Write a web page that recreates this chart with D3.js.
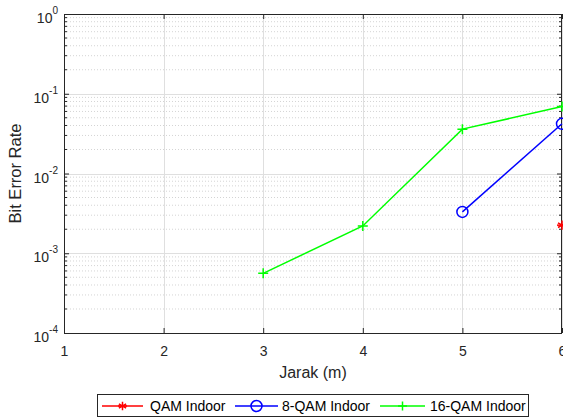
<!DOCTYPE html>
<html>
<head>
<meta charset="utf-8">
<script src="https://cdn.jsdelivr.net/npm/d3@7"></script>
<style>
body{margin:0;background:#fff;}
svg{display:block;font-family:"Liberation Sans",Arial,sans-serif;}
</style>
</head>
<body>
<svg id="chart"></svg>
<script>
// data
let jarak = [1,2,3,4,5,6];
let qam = [{x:6,y:0.00225}];
let qam8 = [{x:5,y:0.0033},{x:6,y:0.042}];
let qam16 = [{x:3,y:0.00056},{x:4,y:0.0022},{x:5,y:0.036},{x:6,y:0.069}];
let decades = [-4,-3,-2,-1,0];
let seriesNames = ["QAM Indoor","8-QAM Indoor","16-QAM Indoor"];
let seriesColors = ["#ff0000","#0000ff","#00ff00"];

width = 563;
height = 417;
margin = ({top: 14, right: 1, bottom: 84, left: 64});

svg = d3.select('#chart').attr('width',width).attr('height',height);

x = d3.scaleLinear().domain([1,6]).range([margin.left, width - margin.right]);
y = d3.scaleLog().domain([1e-4,1]).range([height - margin.bottom, margin.top]);

axisCol = '#262626';

// minor grid
let minors = [];
decades.slice(0,-1).forEach(e=>{
    for(let k=2;k<10;k++) minors.push(k*Math.pow(10,e));
});
svg.append('g').selectAll('line').data(minors).join('line')
    .attr('x1',x(1)).attr('x2',x(6))
    .attr('y1',d=>y(d)).attr('y2',d=>y(d))
    .attr('stroke','#d4d4d4').attr('stroke-width',1).attr('stroke-dasharray','1,2');

// major grid
svg.append('g').selectAll('line').data(decades.map(e=>Math.pow(10,e))).join('line')
    .attr('x1',x(1)).attr('x2',x(6))
    .attr('y1',d=>Math.round(y(d))+0.5).attr('y2',d=>Math.round(y(d))+0.5)
    .attr('stroke','#dfdfdf');
svg.append('g').selectAll('line').data(jarak).join('line')
    .attr('x1',d=>Math.round(x(d))+0.5).attr('x2',d=>Math.round(x(d))+0.5)
    .attr('y1',y(1)).attr('y2',y(1e-4))
    .attr('stroke','#dfdfdf');

// box
svg.append('rect')
    .attr('x',x(1)+0.5).attr('y',y(1)+0.5)
    .attr('width',x(6)-x(1)-1).attr('height',y(1e-4)-y(1))
    .attr('fill','none').attr('stroke',axisCol);

// ticks
xAxis = g => g
    .attr('transform',`translate(0,${y(1e-4)})`)
    .call(d3.axisBottom(x).tickValues(jarak).tickFormat(d3.format('d')).tickSize(-5).tickPadding(13))
    .call(g=>g.select('.domain').remove());
svg.append('g').call(xAxis);
svg.append('g').attr('transform',`translate(0,${y(1)})`)
    .call(d3.axisTop(x).tickValues(jarak).tickSize(-5).tickFormat(''))
    .call(g=>g.select('.domain').remove());

yAxis = g => g
    .attr('transform',`translate(${x(1)},0)`)
    .call(d3.axisLeft(y).tickValues(decades.map(e=>Math.pow(10,e))).tickSize(-5).tickPadding(8).tickFormat(''))
    .call(g=>g.select('.domain').remove());
svg.append('g').call(yAxis);
svg.append('g').attr('transform',`translate(${x(6)},0)`)
    .call(d3.axisRight(y).tickValues(decades.map(e=>Math.pow(10,e))).tickSize(-5).tickFormat(''))
    .call(g=>g.select('.domain').remove());
// minor y ticks
[x(1), x(6)].forEach((px,i)=>{
    svg.append('g').selectAll('line').data(minors).join('line')
        .attr('x1',px).attr('x2',i?px-3:px+3)
        .attr('y1',d=>y(d)).attr('y2',d=>y(d))
        .attr('stroke',axisCol);
});
svg.selectAll('.tick line').attr('stroke',axisCol);
svg.selectAll('.tick text').attr('fill',axisCol).attr('font-size',14).attr('font-family','"Liberation Sans",Arial,sans-serif');

// y tick labels 10^n
let ylab = svg.append('g').selectAll('text').data(decades).join('text')
    .attr('x',x(1)-6).attr('y',d=>y(Math.pow(10,d))+9)
    .attr('text-anchor','end').attr('fill',axisCol).attr('font-size',14);
ylab.append('tspan').text('10');
ylab.append('tspan').attr('dy',-9).attr('font-size',10).text(d=>d);

// axis labels
svg.append('text').attr('x',(x(1)+x(6))/2).attr('y',378)
    .attr('text-anchor','middle').attr('font-size',16).attr('fill',axisCol).text('Jarak (m)');
svg.append('text').attr('transform',`translate(21,${(y(1)+y(1e-4))/2}) rotate(-90)`)
    .attr('text-anchor','middle').attr('font-size',16.5).attr('fill',axisCol).text('Bit Error Rate');

// markers
function marker(g,i,size){
    if(i===0){
        g.append('path').attr('d',d3.symbol(d3.symbolAsterisk,size*size*0.6)).attr('stroke',seriesColors[i]).attr('stroke-width',1.5).attr('fill','none');
        g.append('path').attr('d',`M${-size/2},0H${size/2}`).attr('stroke',seriesColors[i]).attr('stroke-width',1.5);
    } else if(i===1){
        g.append('circle').attr('r',size/2).attr('fill','none').attr('stroke',seriesColors[i]).attr('stroke-width',1.5);
    } else {
        g.append('path').attr('d',`M${-size/2},0H${size/2}M0,${-size/2}V${size/2}`).attr('stroke',seriesColors[i]).attr('stroke-width',1.5);
    }
}

line = d3.line().x(d=>x(d.x)).y(d=>y(d.y));
[qam, qam8, qam16].forEach((s,i)=>{
    svg.append('path').datum(s).attr('d',line).attr('fill','none')
        .attr('stroke',seriesColors[i]).attr('stroke-width',1.5);
    s.forEach(p=>{
        let g = svg.append('g').attr('transform',`translate(${x(p.x)},${y(p.y)})`);
        marker(g,i,i===1?11:10);
    });
});

// legend
let lg = svg.append('g');
lg.append('rect').attr('x',97.5).attr('y',394.5).attr('width',431).attr('height',22)
    .attr('fill','#fff').attr('stroke','#262626');
let items = [{x0:102,x1:143,tx:150},{x0:235,x1:278,tx:282},{x0:380,x1:425,tx:430}];
items.forEach((it,i)=>{
    lg.append('line').attr('x1',it.x0).attr('x2',it.x1).attr('y1',406).attr('y2',406)
        .attr('stroke',seriesColors[i]).attr('stroke-width',1.5);
    marker(lg.append('g').attr('transform',`translate(${(it.x0+it.x1)/2},406)`),i,i===1?11:9);
    lg.append('text').attr('x',it.tx).attr('y',411).attr('font-size',14).attr('fill','#000').text(seriesNames[i]);
});
</script>
</body>
</html>
